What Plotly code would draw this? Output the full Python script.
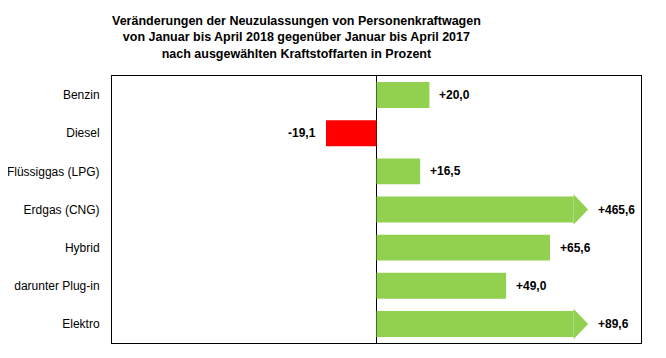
import plotly.graph_objects as go

categories = ["Benzin", "Diesel", "Flüssiggas (LPG)", "Erdgas (CNG)", "Hybrid", "darunter Plug-in", "Elektro"]
values = [20.0, -19.1, 16.5, 465.6, 65.6, 49.0, 89.6]

# display cap for values beyond the axis (drawn as arrows)
AXIS_MIN, AXIS_MAX = -100, 100
BODY_CAP = 74.5
TIP_CAP = 80.0

GREEN = "#92D050"
RED = "#FF0000"
BAR_W = 0.68
HEAD_H = 0.40

# page body has an 8px default margin; compensate in the figure margins
OFF = 8
W, H = 666, 358
M_L, M_R, M_T, M_B = 112 - OFF, 25 + OFF, 76 - OFF, 15 + OFF
PLOT_H = H - M_T - M_B
PLOT_W = W - M_L - M_R

def fmt(v):
    s = f"{abs(v):.1f}".replace(".", ",")
    return ("+" if v >= 0 else "-") + s

idx = list(range(len(categories)))
bar_x = [min(v, BODY_CAP) for v in values]
colors = [GREEN if v >= 0 else RED for v in values]

fig = go.Figure()
fig.add_trace(go.Bar(x=bar_x, y=idx, orientation="h", width=BAR_W,
                     marker=dict(color=colors, line=dict(width=0)),
                     hoverinfo="skip", showlegend=False))

annotations = []
for i, v in zip(idx, values):
    if v > TIP_CAP:
        fig.add_trace(go.Scatter(x=[BODY_CAP, TIP_CAP, BODY_CAP, BODY_CAP],
                                 y=[i - HEAD_H, i, i + HEAD_H, i - HEAD_H],
                                 mode="lines", fill="toself", fillcolor=GREEN,
                                 line=dict(width=0, color=GREEN),
                                 hoverinfo="skip", showlegend=False))
        xpos = TIP_CAP
    else:
        xpos = v
    annotations.append(dict(x=xpos, y=i, xref="x", yref="y", text=fmt(v),
                            showarrow=False,
                            xanchor="left" if v >= 0 else "right",
                            xshift=8 if v >= 0 else -8,
                            font=dict(family="Liberation Sans, Arial", size=12, color="black", weight="bold")))

annotations.append(dict(
    x=(296 - OFF - M_L) / PLOT_W, y=1 + (M_T - 4) / PLOT_H, xref="paper", yref="paper",
    yanchor="top", xanchor="center",
    text="<b>Veränderungen der Neuzulassungen von Personenkraftwagen<br>von Januar bis April 2018 gegenüber Januar bis April 2017<br>nach ausgewählten Kraftstoffarten in Prozent</b>",
    showarrow=False, align="center",
    font=dict(family="Liberation Sans, Arial", size=12.5, color="black")))

fig.update_layout(
    width=W, height=H,
    margin=dict(l=M_L, r=M_R, t=M_T, b=M_B, autoexpand=False),
    paper_bgcolor="white", plot_bgcolor="white",
    xaxis=dict(range=[AXIS_MIN, AXIS_MAX], showticklabels=False, showgrid=False,
               zeroline=True, zerolinecolor="black", zerolinewidth=1, automargin=False,
               showline=True, mirror=True, linecolor="black", linewidth=1, ticks=""),
    yaxis=dict(range=[len(categories) - 0.5, -0.5], tickvals=idx, ticktext=categories,
               showgrid=False, zeroline=False, showline=True, mirror=True, automargin=False,
               linecolor="black", linewidth=1, ticks="", ticklabelstandoff=9,
               tickfont=dict(family="Liberation Sans, Arial", size=12, color="black")),
    annotations=annotations,
)

fig.write_html("out.html")
